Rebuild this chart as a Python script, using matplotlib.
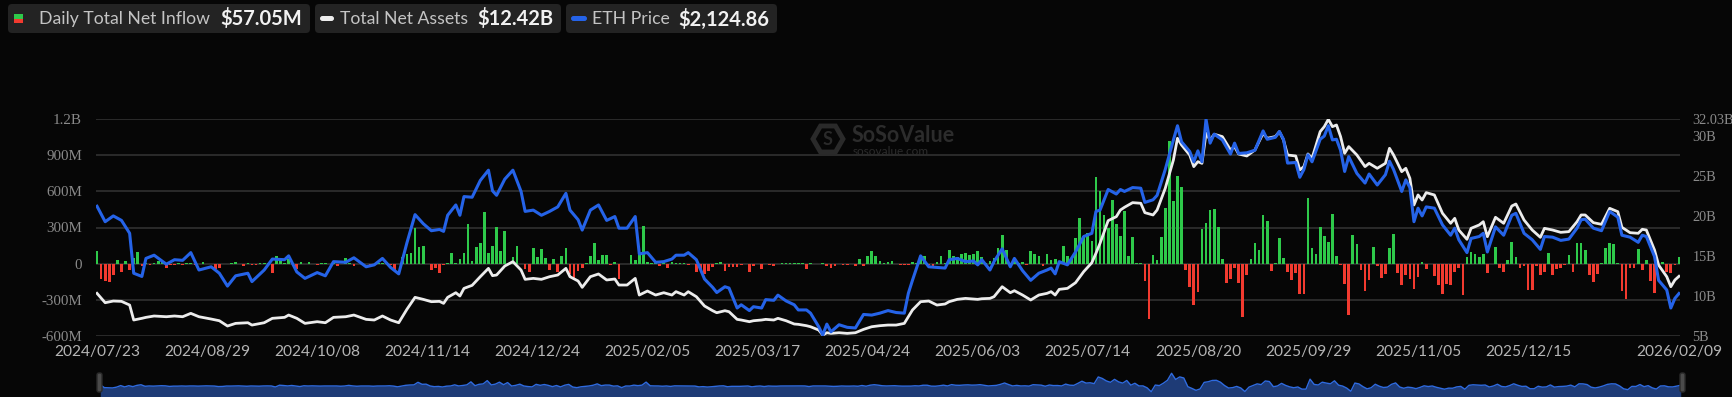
import numpy as np
import matplotlib.pyplot as plt
from matplotlib.patches import FancyBboxPatch, Rectangle, RegularPolygon
from matplotlib.transforms import IdentityTransform

# x axis labels, every 27 trading days + the last day
tick_labels = ['2024/07/23', '2024/08/29', '2024/10/08', '2024/11/14', '2024/12/24',
               '2025/02/05', '2025/03/17', '2025/04/24', '2025/06/03', '2025/07/14',
               '2025/08/20', '2025/09/29', '2025/11/05', '2025/12/15', '2026/02/09']
tick_days = [0, 27, 54, 81, 108, 135, 162, 189, 216, 243, 270, 297, 324, 351, 388]

# daily total net inflow, $M (one value per trading day)
net_inflow = [
    105, -130, -144, -155, -91, 33, -72, 25, -50, 50,
    100, -22, 3, -11, 4, 22, 11, -33, -11, -11,
    2, -11, 3, 2, -11, -3, 11, 0, -4, -44,
    -36, -3, -5, 3, 11, 0, -19, 2, -8, -14,
    3, 8, 2, -78, 64, 39, 5, 42, 0, -44,
    17, 0, 11, 0, -8, 2, 3, 0, 2, -17,
    0, 50, 5, -19, 0, 3, 0, -19, 0, 2,
    3, 17, -8, -64, 0, 55, 80, 89, 297, 136,
    147, 0, -53, -33, -78, -14, 3, 92, 3, 42,
    92, 333, 25, 136, 169, 430, 86, 150, 308, 103,
    275, -3, 53, 147, 0, -44, -72, 133, 53, 119,
    50, -50, 39, -72, 61, 130, -83, -133, -64, -33,
    2, 61, 169, 28, 75, 72, -11, 11, -130, 0,
    -3, 69, 28, 69, 311, 17, 5, 3, -19, 2,
    -33, 11, 8, 8, 8, -8, -6, -72, -50, -83,
    -61, -28, 3, 14, -58, -28, -28, -28, -11, 0,
    -67, -19, 0, -44, 0, -14, -17, 0, 2, 3,
    5, 4, 6, 2, -44, 3, 0, 0, 2, -19,
    -33, -22, 0, -11, -11, 0, -19, 39, -17, 64,
    103, 67, 19, 3, 11, 22, 0, -11, -11, -8,
    17, 3, 61, 61, -11, -17, 17, 67, 5, 111,
    61, 55, 80, 92, 69, 78, 108, 53, 5, 25,
    50, 130, 241, 114, 3, 50, 3, 14, -8, 103,
    83, 67, -19, 78, 33, 39, 5, 150, 64, 50,
    211, 383, 233, 258, 191, 724, 602, 405, 294, 532,
    330, 230, 441, 67, 219, 5, 6, -147, -460, 75,
    33, 225, 460, 1018, 521, 727, 641, -55, -194, -347,
    -236, 288, 341, 444, 455, 305, 39, -161, -130, -33,
    -161, -444, -91, 42, 169, 111, 402, 358, -58, 2,
    211, 47, -69, -139, -78, -250, -250, 546, 128, 80,
    305, 233, 177, 416, 67, -8, -169, -424, 236, 166,
    -55, -227, -139, 141, -17, -119, -89, 133, 247, -80,
    -180, -94, -130, -211, -111, 14, -42, 0, -103, -175,
    -255, -172, -178, -72, -33, -258, 53, 97, 78, 58,
    78, -78, 0, 141, -36, -72, 33, 177, 58, -36,
    -17, -219, -219, -19, -91, -72, 86, -91, -47, -33,
    -8, 69, -67, 175, 169, 116, -94, -155, -89, 8,
    130, 175, 164, 3, -225, -294, -33, -36, 119, -55,
    28, -147, -244, 0, 14, -67, -75, -11, 57.05,
]

line_days = [
    0, 2, 4, 6, 8, 9, 11, 12, 14, 17, 19, 21, 23, 25, 28, 30, 32, 34, 37, 38,
    41, 43, 46, 47, 49, 51, 54, 56, 58, 61, 63, 66, 68, 70, 72, 74, 76, 78, 80, 82,
    84, 85, 86, 88, 89, 90, 92, 94, 96, 97, 98, 100, 102, 104, 105, 107, 109, 111, 113, 115,
    116, 118, 119, 121, 123, 125, 127, 128, 130, 132, 133, 135, 137, 139, 141, 142, 144, 145, 147, 149,
    151, 152, 154, 155, 157, 158, 160, 161, 163, 164, 166, 167, 169, 171, 172, 174, 175, 177, 178, 179,
    180, 182, 184, 186, 188, 190, 192, 194, 196, 198, 199, 200, 202, 204, 206, 208, 209, 211, 213, 215,
    216, 217, 219, 220, 222, 224, 225, 227, 229, 231, 233, 234, 235, 236, 238, 240, 242, 244, 245, 246,
    248, 250, 251, 252, 254, 256, 257, 259, 260, 262, 264, 265, 266, 268, 269, 270, 271, 272, 273, 274,
    276, 278, 279, 280, 282, 284, 286, 287, 289, 290, 291, 292, 294, 295, 296, 297, 298, 300, 301, 302,
    303, 304, 305, 306, 307, 309, 311, 312, 314, 316, 317, 318, 320, 321, 322, 323, 324, 325, 326, 328,
    330, 332, 333, 334, 336, 337, 339, 340, 341, 343, 345, 347, 348, 350, 352, 354, 355, 357, 359, 361,
    363, 364, 365, 367, 369, 371, 373, 374, 376, 378, 379, 380, 382, 383, 385, 386, 387, 388,
]

eth_price = [
    3480, 3240, 3330, 3260, 3060, 2440, 2390, 2670, 2720, 2580, 2650, 2640, 2760, 2490, 2540, 2440, 2240, 2400, 2440, 2310,
    2490, 2660, 2650, 2710, 2460, 2360, 2450, 2400, 2620, 2610, 2680, 2540, 2570, 2670, 2530, 2430, 2910, 3350, 3210, 3100,
    3120, 3090, 3340, 3500, 3340, 3630, 3620, 3880, 4040, 3720, 3650, 3900, 4040, 3710, 3400, 3420, 3340, 3400, 3470, 3680,
    3420, 3270, 3110, 3420, 3500, 3260, 3320, 3140, 3140, 3320, 2740, 2760, 2610, 2620, 2660, 2720, 2720, 2760, 2650, 2350,
    2220, 2140, 2230, 2210, 1900, 1950, 1860, 1920, 1900, 2030, 2020, 2100, 2010, 1950, 1870, 1870, 1820, 1610, 1480, 1650,
    1530, 1640, 1600, 1590, 1800, 1790, 1820, 1860, 1830, 1820, 2130, 2330, 2710, 2540, 2530, 2520, 2650, 2670, 2620, 2630,
    2570, 2650, 2490, 2620, 2820, 2540, 2670, 2480, 2330, 2440, 2490, 2520, 2430, 2620, 2570, 2770, 3010, 3060, 3400, 3420,
    3740, 3670, 3740, 3710, 3770, 3760, 3540, 3580, 3650, 4050, 4510, 4730, 4480, 4330, 4170, 4340, 4170, 4830, 4460, 4600,
    4510, 4290, 4460, 4300, 4310, 4350, 4650, 4520, 4550, 4640, 4520, 4150, 4160, 3930, 4050, 4280, 4170, 4520, 4570, 4730,
    4510, 4520, 4350, 4020, 4250, 3990, 3840, 3980, 3810, 3970, 4180, 4050, 3710, 3890, 3770, 3240, 3450, 3330, 3470, 3450,
    3190, 3030, 3140, 2960, 2760, 2980, 3010, 3060, 2770, 3160, 3030, 3340, 3370, 3060, 2960, 2810, 3010, 3000, 2950, 2970,
    3140, 3270, 3280, 3140, 3100, 3400, 3310, 3030, 3000, 2920, 3030, 3010, 2700, 2330, 2180, 1900, 2050, 2124.86,
]

net_assets_b = [
    10.29, 9.12, 9.33, 9.29, 8.83, 6.96, 7.17, 7.29, 7.46, 7.37, 7.46, 7.37, 7.79, 7.37, 7.08, 6.87, 6.21, 6.54, 6.62, 6.33,
    6.62, 7.17, 7.29, 7.58, 7.17, 6.54, 6.75, 6.62, 7.29, 7.37, 7.58, 7.04, 6.96, 7.46, 6.96, 6.62, 8.29, 9.79, 9.54, 9.25,
    9.29, 9.04, 9.79, 10.37, 9.96, 10.91, 11.29, 12.37, 13.41, 12.50, 12.58, 13.70, 14.25, 13.20, 12.04, 12.16, 12.04, 12.37, 12.58, 13.41,
    12.37, 11.83, 11.04, 12.37, 12.71, 11.96, 12.08, 11.33, 11.33, 12.16, 10.08, 10.58, 10.08, 10.37, 10.08, 10.50, 10.08, 10.50, 9.87, 8.71,
    8.12, 7.87, 8.12, 8.00, 7.04, 6.96, 6.75, 6.87, 6.96, 7.04, 6.96, 7.17, 6.87, 6.46, 6.42, 6.25, 6.12, 5.71, 5.08, 5.37,
    5.29, 5.37, 5.29, 5.37, 5.79, 6.12, 6.25, 6.33, 6.33, 6.54, 7.37, 8.21, 9.25, 9.33, 8.83, 8.96, 9.25, 9.54, 9.66, 9.58,
    9.54, 9.62, 9.66, 9.87, 11.12, 10.37, 10.62, 10.08, 9.46, 10.08, 10.29, 10.50, 10.08, 10.79, 10.91, 11.62, 13.00, 14.12, 15.29, 16.54,
    19.37, 19.87, 20.70, 21.04, 21.62, 21.54, 20.37, 20.08, 20.70, 23.41, 26.95, 29.66, 28.82, 27.57, 26.12, 26.74, 26.53, 30.28, 29.45, 30.16,
    29.87, 28.20, 28.62, 27.70, 27.45, 28.20, 30.28, 29.66, 29.87, 30.49, 29.45, 27.57, 27.45, 25.70, 26.12, 27.70, 27.16, 30.49, 31.11, 32.03,
    31.11, 31.32, 29.87, 27.78, 28.62, 27.57, 26.12, 26.53, 25.91, 26.53, 28.41, 27.57, 25.49, 25.91, 24.66, 21.33, 22.58, 21.95, 22.87, 22.58,
    20.29, 19.04, 19.66, 18.20, 17.04, 18.41, 18.83, 19.24, 17.37, 19.79, 19.04, 21.20, 21.45, 19.45, 18.20, 17.29, 18.41, 18.20, 17.91, 18.00,
    19.24, 20.08, 20.08, 19.12, 18.91, 20.91, 20.49, 18.54, 17.87, 17.79, 18.29, 18.20, 15.70, 13.83, 12.37, 11.12, 11.96, 12.42,
]

left_ticks = [-600, -300, 0, 300, 600, 900, 1200]
left_labels = ['-600M', '-300M', '0', '300M', '600M', '900M', '1.2B']
right_ticks = [5, 10, 15, 20, 25, 30, 32.03]
right_labels = ['5B', '10B', '15B', '20B', '25B', '30B', '32.03B']

GREEN = '#2ec94a'
RED = '#f23a2f'
BLUE = '#2563e8'
WHITE = '#ececec'
BG = '#060606'

W, H = 1732, 397
fig = plt.figure(figsize=(W / 100, H / 100), dpi=100, facecolor=BG)


def fx(x):
    return x / W


def fy(y):
    return 1 - y / H


# main plot area
ax = fig.add_axes([fx(96), fy(335.7), (1680 - 96) / W, (335.7 - 119.3) / H])
ax.set_facecolor('none')
days = np.arange(len(net_inflow))
bar_colors = [GREEN if v >= 0 else RED for v in net_inflow]
ax.bar(days, net_inflow, width=0.66, color=bar_colors, zorder=2)
ax.set_xlim(-0.25, len(days) - 0.75)
ax.set_ylim(-600, 1200)
ax.set_yticks(left_ticks)
ax.set_yticklabels(left_labels, family='Liberation Serif', fontsize=10.8, color='#8a8a8a')
ax.yaxis.grid(True, color='#343434', lw=1.1)
ax.set_axisbelow(True)
ax.set_xticks(tick_days)
ax.set_xticklabels(tick_labels, family='Lato', fontsize=11.2, color='#b4b4b4')
ax.tick_params(axis='y', length=0, pad=10)
ax.tick_params(axis='x', length=0, pad=6.5)
for s in ax.spines.values():
    s.set_visible(False)

# total net assets on the right scale
ax_r = ax.twinx()
ax_r.plot(line_days, net_assets_b, color=WHITE, lw=2.0, solid_joinstyle='round')
ax_r.set_ylim(5, 32.03)
ax_r.set_yticks(right_ticks)
ax_r.set_yticklabels(right_labels, family='Liberation Serif', fontsize=10.3, color='#8a8a8a')
ax_r.tick_params(axis='y', length=0, pad=9)
for s in ax_r.spines.values():
    s.set_visible(False)

# eth price, own hidden scale
ax_p = ax.twinx()
ax_p.plot(line_days, eth_price, color=BLUE, lw=2.2, solid_joinstyle='round')
ax_p.set_ylim(min(eth_price) - 10, max(eth_price))
ax_p.set_yticks([])
for s in ax_p.spines.values():
    s.set_visible(False)

# watermark
fig.add_artist(RegularPolygon((828, H - 139), numVertices=6, radius=15, orientation=np.pi / 6,
                              fill=False, ec='#2a2a2a', lw=3.5, transform=IdentityTransform()))
fig.text(fx(828), fy(139), 'S', family='Lato', weight='bold', fontsize=13, color='#2a2a2a',
         ha='center', va='center')
fig.text(fx(852), fy(136), 'SoSoValue', family='Lato', weight='bold', fontsize=15.5,
         color='#2c2c2c', va='center')
fig.text(fx(853), fy(151.5), 'sosovalue.com', family='Lato', fontsize=8.5,
         color='#2c2c2c', va='center')

# navigator strip at the bottom
nav = fig.add_axes([fx(97), 0, (1684 - 97) / W, (397 - 368) / H])
nav.set_facecolor('#1a2440')
nav.fill_between(days, net_inflow, -900, color='#1e3b76', lw=0)
nav.plot(days, net_inflow, color='#2f6be0', lw=1.0)
nav.set_xlim(-0.8, len(days) - 0.2)
nav.set_ylim(-880, 1440)
nav.axis('off')
for hx in (97, 1680):
    fig.add_artist(FancyBboxPatch((hx, H - 392), 5, 19, boxstyle='round,pad=0,rounding_size=2',
                                  fc='#4a4a4a', ec='#2a2a2a', lw=1, transform=IdentityTransform()))

# legend boxes
for x0, x1 in [(8, 310), (315, 561), (566, 777)]:
    fig.add_artist(FancyBboxPatch((x0, H - 33), x1 - x0, 29, boxstyle='round,pad=0,rounding_size=4',
                                  fc='#232323', ec='none', transform=IdentityTransform()))
fig.add_artist(Rectangle((14, H - 18.7), 9, 4.7, fc=GREEN, ec='none', transform=IdentityTransform()))
fig.add_artist(Rectangle((14, H - 23.4), 9, 4.7, fc=RED, ec='none', transform=IdentityTransform()))
fig.add_artist(FancyBboxPatch((320, H - 21), 14, 5, boxstyle='round,pad=0,rounding_size=2.5',
                              fc=WHITE, ec='none', transform=IdentityTransform()))
fig.add_artist(FancyBboxPatch((571, H - 21), 16, 5, boxstyle='round,pad=0,rounding_size=2.5',
                              fc=BLUE, ec='none', transform=IdentityTransform()))

label_kw = dict(family='Lato', fontsize=12.7, color='#c4c4c4', va='center')
value_kw = dict(family='Lato', weight='bold', fontsize=14.5, color='#f2f2f2', va='center')
fig.text(fx(39), fy(19), 'Daily Total Net Inflow', **label_kw)
fig.text(fx(220), fy(19), f'${net_inflow[-1]:.2f}M', **value_kw)
fig.text(fx(340), fy(19), 'Total Net Assets', **label_kw)
fig.text(fx(477), fy(19), f'${net_assets_b[-1]:.2f}B', **value_kw)
fig.text(fx(592), fy(19), 'ETH Price', **label_kw)
fig.text(fx(678), fy(19), f'${eth_price[-1]:,.2f}', **value_kw)

fig.savefig('out.png', dpi=100, facecolor=BG)
